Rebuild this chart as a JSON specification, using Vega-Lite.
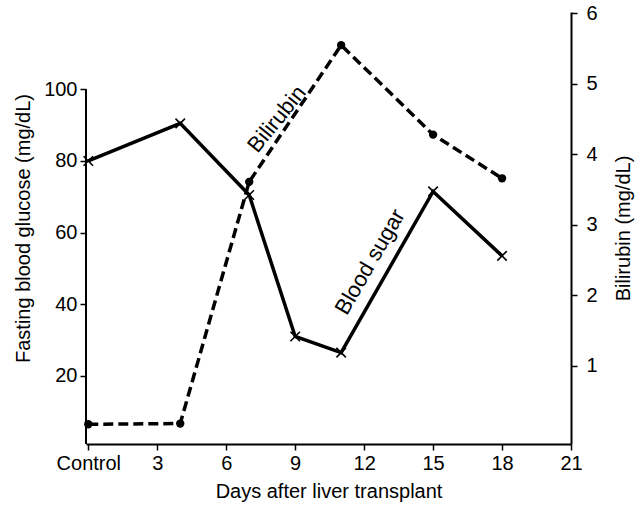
{
  "$schema": "https://vega.github.io/schema/vega-lite/v6.json",
  "width": 485,
  "height": 432,
  "autosize": {"type": "none"},
  "padding": {"left": 86, "top": 12, "right": 72, "bottom": 64},
  "background": "white",
  "config": {
    "view": {"stroke": null},
    "font": "Liberation Sans",
    "axis": {
      "domainColor": "black",
      "domainWidth": 2,
      "tickColor": "black",
      "tickWidth": 1.5,
      "tickSize": 6,
      "labelColor": "black",
      "titleColor": "black",
      "labelFont": "Liberation Sans",
      "titleFont": "Liberation Sans",
      "labelFontSize": 20,
      "titleFontSize": 20,
      "titleFontWeight": "normal",
      "grid": false
    }
  },
  "datasets": {
    "sugar": [
      {"day": 0, "glucose": 80},
      {"day": 4, "glucose": 90.5},
      {"day": 7, "glucose": 70.5},
      {"day": 9, "glucose": 31},
      {"day": 11, "glucose": 26.5},
      {"day": 15, "glucose": 71.5},
      {"day": 18, "glucose": 53.5}
    ],
    "bili": [
      {"day": 0, "bilirubin": 0.17},
      {"day": 4, "bilirubin": 0.18},
      {"day": 7, "bilirubin": 3.61},
      {"day": 11, "bilirubin": 5.55},
      {"day": 15, "bilirubin": 4.28},
      {"day": 18, "bilirubin": 3.66}
    ]
  },
  "layer": [
    {
      "layer": [
        {
          "data": {"name": "sugar"},
          "mark": {"type": "line", "color": "black", "strokeWidth": 3.5},
          "encoding": {
            "x": {"field": "day", "type": "quantitative", "scale": {"domain": [-0.1, 21], "nice": false, "zero": false},
              "axis": {"values": [0, 3, 6, 9, 12, 15, 18, 21], "labelExpr": "datum.value == 0 ? 'Control' : datum.label", "title": "Days after liver transplant", "labelPadding": 3, "titlePadding": 8, "labelFlush": false}},
            "y": {"field": "glucose", "type": "quantitative", "scale": {"domain": [0.98, 121.6], "nice": false, "zero": false},
              "axis": {"orient": "left", "values": [20, 40, 60, 80, 100], "domain": false, "title": "Fasting blood glucose (mg/dL)", "labelPadding": 3, "titlePadding": 10}}
          }
        },
        {
          "data": {"name": "sugar"},
          "mark": {"type": "point", "shape": "M-1,-1L1,1M1,-1L-1,1", "size": 90, "color": "black", "strokeWidth": 1.6, "filled": false, "opacity": 1},
          "encoding": {
            "x": {"field": "day", "type": "quantitative"},
            "y": {"field": "glucose", "type": "quantitative"}
          }
        },
        {
          "data": {"name": "sugar"},
          "transform": [{"filter": "datum.day == 0"}],
          "mark": {"type": "rule", "color": "black", "strokeWidth": 2},
          "encoding": {
            "x": {"datum": -0.1, "type": "quantitative"},
            "y": {"datum": 0.98, "type": "quantitative"},
            "y2": {"datum": 100}
          }
        },
        {
          "data": {"name": "sugar"},
          "transform": [{"filter": "datum.day == 0"}],
          "mark": {"type": "text", "angle": -60, "fontSize": 22, "font": "Liberation Sans", "color": "black", "align": "center", "baseline": "middle"},
          "encoding": {
            "text": {"value": "Blood sugar"},
            "x": {"datum": 12.26, "type": "quantitative"},
            "y": {"datum": 51.8, "type": "quantitative"}
          }
        }
      ]
    },
    {
      "layer": [
        {
          "data": {"name": "bili"},
          "mark": {"type": "line", "color": "black", "strokeWidth": 3.5, "strokeDash": [10, 5]},
          "encoding": {
            "x": {"field": "day", "type": "quantitative"},
            "y": {"field": "bilirubin", "type": "quantitative", "scale": {"domain": [-0.11, 6.02], "nice": false, "zero": false},
              "axis": {"orient": "right", "values": [1, 2, 3, 4, 5, 6], "format": "d", "title": "Bilirubin (mg/dL)", "titleAngle": 270, "labelPadding": 9, "titlePadding": 36}}
          }
        },
        {
          "data": {"name": "bili"},
          "mark": {"type": "point", "shape": "circle", "size": 70, "color": "black", "filled": true, "opacity": 1},
          "encoding": {
            "x": {"field": "day", "type": "quantitative"},
            "y": {"field": "bilirubin", "type": "quantitative"}
          }
        },
        {
          "data": {"name": "bili"},
          "transform": [{"filter": "datum.day == 0"}],
          "mark": {"type": "text", "angle": -51, "fontSize": 22, "font": "Liberation Sans", "color": "black", "align": "center", "baseline": "middle"},
          "encoding": {
            "text": {"value": "Bilirubin"},
            "x": {"datum": 8.2, "type": "quantitative"},
            "y": {"datum": 4.5, "type": "quantitative"}
          }
        }
      ]
    }
  ],
  "resolve": {"scale": {"y": "independent"}, "axis": {"y": "independent"}}
}
